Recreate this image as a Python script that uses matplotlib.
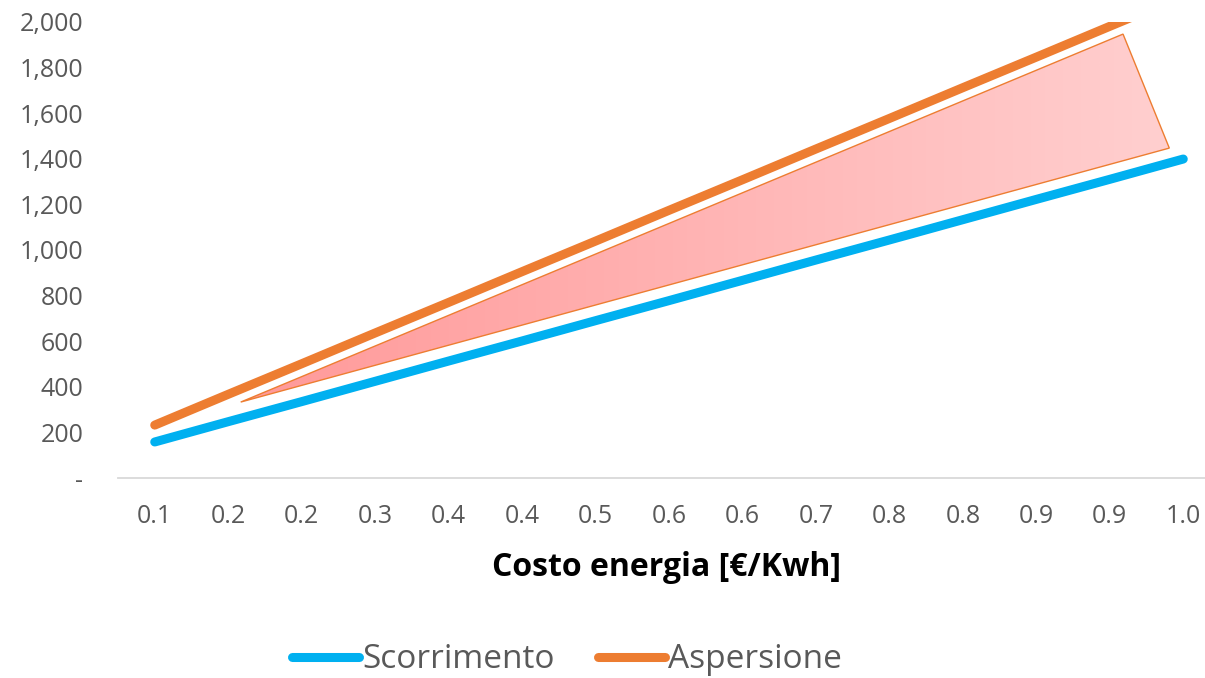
import numpy as np
import matplotlib
matplotlib.use("Agg")
import matplotlib.pyplot as plt
from matplotlib.patches import Polygon
from matplotlib.colors import LinearSegmentedColormap
from matplotlib.ticker import FuncFormatter

# Category labels on the x axis (energy cost, rounded to one decimal)
cost_labels = ["0.1", "0.2", "0.2", "0.3", "0.4", "0.4", "0.5", "0.6",
               "0.6", "0.7", "0.8", "0.8", "0.9", "0.9", "1.0"]

# Yearly cost for each irrigation method
scorrimento = [158, 247, 335, 424, 513, 601, 690, 778, 867, 956,
               1044, 1133, 1222, 1310, 1399]
aspersione = [232, 367, 501, 636, 770, 905, 1039, 1174, 1308, 1443,
              1577, 1712, 1846, 1981, 2115]

# Highlight wedge between the two series (category index, value)
wedge_x = [1.17, 13.18, 13.81]
wedge_y = [333, 1947, 1447]

plt.rcParams['font.family'] = ['Open Sans', 'DejaVu Sans']

fig = plt.figure(figsize=(12.05, 6.78), dpi=100)
ax = fig.add_axes([118 / 1205, 1 - 478 / 678, 1102 / 1205, 456 / 678])

x = np.arange(len(cost_labels))
blue = "#00B0F0"
orange = "#ED7D31"
grey = "#595959"

ax.plot(x, scorrimento, color=blue, lw=6.5, solid_capstyle="round",
        label="Scorrimento", zorder=3)
ax.plot(x, aspersione, color=orange, lw=6.5, solid_capstyle="round",
        label="Aspersione", zorder=3)

ax.set_xlim(-0.5, len(cost_labels) - 0.5)
ax.set_ylim(0, 2000)

# Wedge with a left-to-right red gradient
verts = np.column_stack([wedge_x, wedge_y])
poly = Polygon(verts, closed=True, facecolor="none", edgecolor=orange,
               lw=1.0, zorder=4)
ax.add_patch(poly)
cmap = LinearSegmentedColormap.from_list("wedge", ["#FF9999", "#FFCFCF"])
grad = np.linspace(0, 1, 256).reshape(1, -1)
img = ax.imshow(grad, cmap=cmap, aspect="auto",
                extent=[min(wedge_x), max(wedge_x), min(wedge_y), max(wedge_y)],
                origin="lower", zorder=2, interpolation="bicubic")
img.set_clip_path(Polygon(verts, closed=True, transform=ax.transData))

ax.set_xticks(x)
ax.set_xticklabels(cost_labels)
ax.set_yticks(np.arange(0, 2001, 200))
ax.yaxis.set_major_formatter(FuncFormatter(lambda v, p: "-" if v == 0 else f"{int(v):,}"))
ax.tick_params(axis="both", length=0, labelsize=18, labelcolor=grey)
ax.tick_params(axis="x", pad=19)
ax.tick_params(axis="y", pad=25)
for lab in ax.get_yticklabels():
    lab.set_horizontalalignment("right")

for side in ["top", "right", "left"]:
    ax.spines[side].set_visible(False)
ax.spines["bottom"].set_color("#D9D9D9")
ax.spines["bottom"].set_linewidth(1.3)
ax.set_facecolor("none")

fig.text(667 / 1205, 1 - 567 / 678, "Costo energia [€/Kwh]", ha="center",
         va="center", fontsize=23, fontweight="bold", color="black")

leg = fig.legend(loc="center", bbox_to_anchor=(567 / 1205, 1 - 660 / 678),
                 ncol=2, frameon=False, fontsize=24, handlelength=2.0,
                 handletextpad=0.1, columnspacing=1.3)
for t in leg.get_texts():
    t.set_color(grey)
for h in leg.get_lines():
    h.set_solid_capstyle("round")

fig.savefig("out.png", dpi=100)
